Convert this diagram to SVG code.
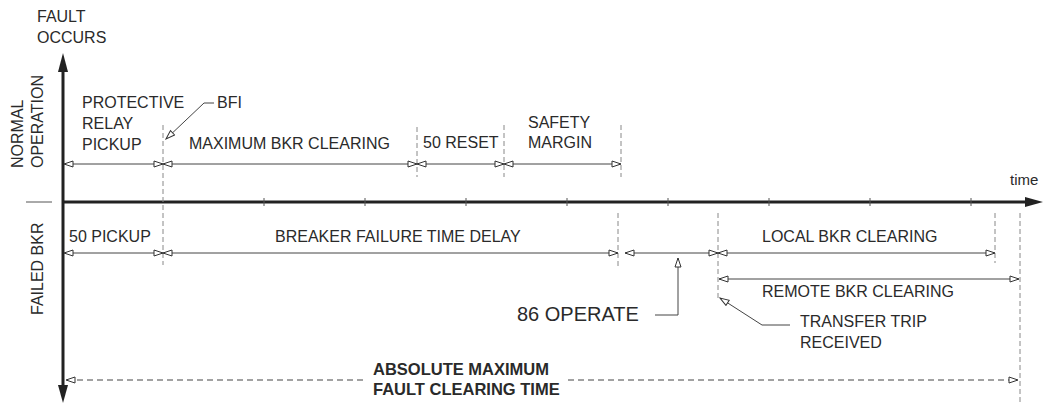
<svg xmlns="http://www.w3.org/2000/svg" width="1045" height="405" viewBox="0 0 1045 405">
<defs>
<style>
text{font-family:"Liberation Sans",Arial,sans-serif;fill:#2a2a2a;font-size:16px}
.b{font-weight:bold;font-size:16.5px}
.big{font-size:20px}
.axis{stroke:#222;stroke-width:3;fill:none}
.thin{stroke:#555;stroke-width:1;fill:none}
.dim{stroke:#444;stroke-width:1;fill:none;marker-start:url(#oa);marker-end:url(#oa)}
.ext{stroke:#888;stroke-width:1;stroke-dasharray:5 3;fill:none}
.lead{stroke:#444;stroke-width:1;fill:none;marker-end:url(#oa)}
.dash{stroke:#444;stroke-width:1;stroke-dasharray:6 4;fill:none}
.head{fill:#222}
</style>
<marker id="oa" markerUnits="userSpaceOnUse" markerWidth="11" markerHeight="8" refX="10" refY="4" orient="auto-start-reverse"><path d="M1,1 L10,4 L1,7 Z" fill="#fff" stroke="#333" stroke-width="1"/></marker>
</defs>
<rect width="1045" height="405" fill="#fff"/>

<g id="axes">
<path class="axis" d="M63,70 L63,386"/>
<polygon class="head" points="63,53 58,72 68,72"/>
<polygon class="head" points="63,403 58,385 68,385"/>
<path class="axis" d="M63,202 L1027,202"/>
<path class="thin" d="M26,202 L52,202"/>
<polygon class="head" points="1043,202 1025,197 1025,207"/>
<path class="thin" d="M264,198 V206 M365,198 V206 M466,198 V206 M567,198 V206 M668,198 V206 M769,198 V206 M870,198 V206 M971,198 V206"/>
</g>

<g id="connectors">
<path class="ext" d="M163,125 V265"/>
<path class="ext" d="M417,127 V177"/>
<path class="ext" d="M504,125 V177"/>
<path class="ext" d="M621,125 V177"/>
<path class="ext" d="M618,213 V267"/>
<path class="ext" d="M718,213 V300"/>
<path class="ext" d="M995,213 V263"/>
<path class="ext" d="M1020,213 V405"/>

<path class="dim" d="M64,164 H163"/>
<path class="dim" d="M163,164 H417"/>
<path class="dim" d="M417,164 H504"/>
<path class="dim" d="M504,164 H621"/>

<path class="dim" d="M64,253 H163"/>
<path class="dim" d="M163,253 H618"/>
<path class="dim" d="M625,253 H718"/>
<path class="dim" d="M718,253 H995"/>
<path class="dim" d="M719,279 H1019"/>

<path class="dash" d="M363,380 H66" marker-end="url(#oa)"/>
<path class="dash" d="M568,380 H1018" marker-end="url(#oa)"/>

<path class="lead" d="M214,103 L204,103 L166,139"/>
<path class="lead" d="M655,315 L678,315 L678,258"/>
<path class="lead" d="M790,325 L762,325 L720,298"/>
</g>

<g id="fault-occurs"><text x="37" y="22">FAULT</text><text x="37" y="43">OCCURS</text></g>
<g id="normal-operation"><text transform="translate(23,168) rotate(-90)">NORMAL</text><text transform="translate(43,168) rotate(-90)">OPERATION</text></g>
<g id="failed-bkr"><text transform="translate(43,315) rotate(-90)">FAILED BKR</text></g>
<g id="time-label"><text x="1010" y="185" style="font-size:15px">time</text></g>

<g id="protective-relay-pickup"><text x="82" y="108">PROTECTIVE</text><text x="82" y="129">RELAY</text><text x="82" y="150">PICKUP</text></g>
<g id="bfi"><text x="217" y="108">BFI</text></g>
<g id="max-bkr-clearing"><text x="189" y="149">MAXIMUM BKR CLEARING</text></g>
<g id="reset-50"><text x="423" y="148">50 RESET</text></g>
<g id="safety-margin"><text x="528" y="128">SAFETY</text><text x="528" y="148">MARGIN</text></g>

<g id="pickup-50"><text x="69" y="242">50 PICKUP</text></g>
<g id="bf-time-delay"><text x="275" y="242">BREAKER FAILURE TIME DELAY</text></g>
<g id="local-bkr-clearing"><text x="762" y="242">LOCAL BKR CLEARING</text></g>
<g id="remote-bkr-clearing"><text x="762" y="297">REMOTE BKR CLEARING</text></g>
<g id="operate-86"><text class="big" x="517" y="321">86 OPERATE</text></g>
<g id="transfer-trip"><text x="800" y="327">TRANSFER TRIP</text><text x="800" y="348">RECEIVED</text></g>
<g id="absolute-max"><text class="b" x="373" y="375">ABSOLUTE MAXIMUM</text><text class="b" x="373" y="395">FAULT CLEARING TIME</text></g>
</svg>
